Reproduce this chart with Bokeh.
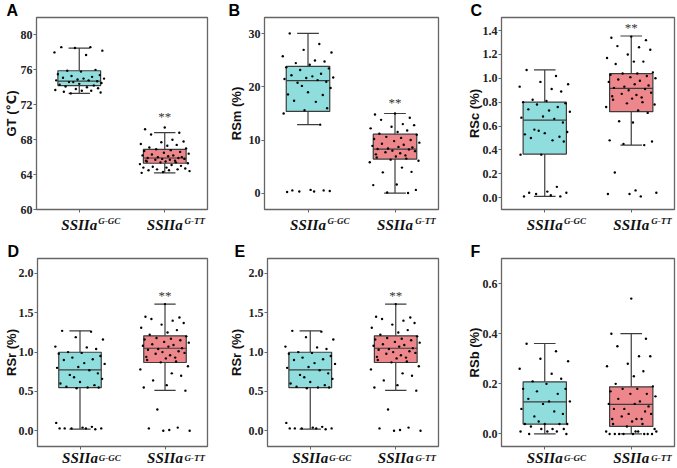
from bokeh.plotting import figure
from bokeh.layouts import row, column
from bokeh.models import Range1d, FixedTicker, Label, LinearAxis
from bokeh.embed import file_html
from bokeh.resources import INLINE

# ---------------- data ----------------
group_main = ["SSIIa", "SSIIa"]
group_sup = ["G-GC", "G-TT"]
group_x = [0.5, 1.5]

# hand-read horizontal jitter (fraction of category spacing)
jitter = [-0.21, 0.13, -0.05, 0.27, -0.29, 0.08, 0.19, -0.14, 0.02, -0.25, 0.24, -0.09,
          0.15, -0.19, 0.05, 0.29, -0.02, -0.27, 0.11, 0.21, -0.12, -0.07, 0.26, 0.0,
          -0.23, 0.17, -0.16, 0.09, 0.22, -0.04, -0.28, 0.14, 0.03, -0.18, 0.25, -0.10,
          0.07, -0.24, 0.18, -0.01, 0.28, -0.15, 0.10, -0.26, 0.04, 0.20, -0.08, -0.20,
          0.16, -0.03, 0.23, -0.11, 0.06, -0.22, 0.12, 0.01]

# box statistics: [whisker low, q1, median, q3, whisker high]
A_gc_stats = [73.3, 74.2, 74.7, 75.9, 78.5]
A_tt_stats = [64.2, 65.3, 65.9, 66.9, 68.8]
B_gc_stats = [12.9, 15.4, 21.2, 23.9, 30.1]
B_tt_stats = [0.0, 6.4, 8.3, 11.1, 15.0]
C_gc_stats = [0.01, 0.365, 0.649, 0.80, 1.07]
C_tt_stats = [0.44, 0.72, 0.915, 1.04, 1.355]
D_gc_stats = [0.02, 0.548, 0.773, 0.998, 1.27]
D_tt_stats = [0.514, 0.868, 1.049, 1.207, 1.61]
F_gc_stats = [0.0, 0.039, 0.128, 0.208, 0.361]
F_tt_stats = [0.0, 0.030, 0.118, 0.188, 0.40]

A_gc = [78.6, 78.6, 78.5, 78.2, 78.0, 77.7, 76.0, 75.9, 75.8, 75.5, 75.4, 75.3, 75.2, 75.1,
        75.0, 75.0, 74.9, 74.8, 74.8, 74.7, 74.6, 74.6, 74.5, 74.4, 74.3, 74.2, 74.1, 74.0,
        73.9, 73.8, 73.7, 73.6, 73.6, 73.5, 73.4, 73.3]
A_tt = [69.4, 69.2, 68.8, 68.6, 68.0, 67.8, 67.7, 67.5, 67.4, 67.3, 67.1, 67.0, 66.9, 66.8,
        66.7, 66.6, 66.5, 66.4, 66.3, 66.2, 66.2, 66.1, 66.0, 66.0, 65.9, 65.9, 65.8, 65.8,
        65.7, 65.7, 65.6, 65.6, 65.5, 65.5, 65.4, 65.4, 65.3, 65.2, 65.1, 65.0, 64.9, 64.8,
        64.8, 64.7, 64.6, 64.6, 64.5, 64.5, 64.4, 64.3, 64.2]
B_gc = [30.1, 28.1, 27.0, 26.5, 25.8, 25.0, 24.8, 24.5, 24.2, 23.7, 23.5, 23.2, 22.5, 22.2,
        22.0, 21.8, 21.7, 21.5, 21.3, 21.0, 20.8, 20.2, 19.8, 19.0, 18.6, 18.5, 17.4, 17.2,
        16.0, 15.6, 15.0, 12.9, 0.6, 0.5, 0.4, 0.3, 0.3, 0.2, 0.5]
B_tt = [15.0, 14.8, 14.2, 13.8, 13.0, 12.8, 12.5, 12.2, 11.8, 11.5, 11.2, 11.0, 10.6, 10.4,
        10.2, 10.0, 9.8, 9.5, 9.3, 9.1, 8.9, 8.7, 8.6, 8.4, 8.3, 8.2, 8.0, 7.9, 7.7, 7.5,
        7.3, 7.1, 6.9, 6.7, 6.5, 6.3, 6.1, 5.8, 4.8, 4.0, 3.9, 1.6, 1.5, 0.6, 0.1, 0.0]
C_gc = [1.07, 1.02, 0.97, 0.95, 0.93, 0.91, 0.89, 0.82, 0.81, 0.80, 0.79, 0.78, 0.76, 0.74,
        0.73, 0.72, 0.68, 0.67, 0.66, 0.63, 0.57, 0.56, 0.55, 0.54, 0.53, 0.51, 0.50, 0.48,
        0.47, 0.36, 0.36, 0.09, 0.05, 0.04, 0.04, 0.03, 0.02, 0.01, 0.01]
C_tt = [1.35, 1.34, 1.32, 1.27, 1.26, 1.24, 1.20, 1.17, 1.14, 1.14, 1.12, 1.05, 1.04, 1.04,
        1.03, 1.02, 1.01, 1.00, 0.99, 0.98, 0.97, 0.95, 0.94, 0.93, 0.92, 0.91, 0.90, 0.88,
        0.87, 0.86, 0.85, 0.84, 0.83, 0.82, 0.80, 0.79, 0.78, 0.76, 0.73, 0.71, 0.64, 0.63,
        0.48, 0.47, 0.45, 0.44, 0.21, 0.06, 0.04, 0.03, 0.03, 0.01]
D_gc = [1.27, 1.26, 1.19, 1.16, 1.07, 1.06, 1.04, 1.00, 0.99, 0.98, 0.95, 0.93, 0.91, 0.90,
        0.86, 0.85, 0.81, 0.80, 0.77, 0.73, 0.71, 0.68, 0.66, 0.62, 0.60, 0.58, 0.56, 0.55,
        0.55, 0.54, 0.10, 0.05, 0.04, 0.03, 0.03, 0.03, 0.03, 0.03, 0.02]
D_tt = [1.61, 1.45, 1.44, 1.42, 1.40, 1.37, 1.35, 1.31, 1.28, 1.25, 1.22, 1.20, 1.18, 1.17,
        1.16, 1.15, 1.13, 1.12, 1.10, 1.09, 1.08, 1.07, 1.05, 1.04, 1.03, 1.01, 1.00, 0.99,
        0.98, 0.96, 0.94, 0.93, 0.92, 0.90, 0.88, 0.87, 0.82, 0.78, 0.73, 0.70, 0.64, 0.58,
        0.55, 0.51, 0.27, 0.04, 0.03, 0.01, 0.00, 0.00]
F_gc = [0.36, 0.33, 0.30, 0.29, 0.26, 0.24, 0.22, 0.21, 0.20, 0.18, 0.18, 0.17, 0.16, 0.14,
        0.13, 0.13, 0.12, 0.10, 0.09, 0.08, 0.07, 0.05, 0.04, 0.04, 0.04, 0.04, 0.03, 0.02,
        0.02, 0.02, 0.01, 0.01, 0.01, 0.00, 0.00]
F_tt = [0.54, 0.40, 0.38, 0.35, 0.31, 0.31, 0.28, 0.27, 0.25, 0.23, 0.20, 0.19, 0.18, 0.18,
        0.17, 0.16, 0.16, 0.15, 0.14, 0.13, 0.12, 0.12, 0.11, 0.10, 0.10, 0.09, 0.08, 0.08,
        0.07, 0.06, 0.06, 0.06, 0.05, 0.04, 0.04, 0.03, 0.02, 0.01, 0.01, 0.00, 0.00, 0.00,
        0.00, 0.00, 0.00, 0.00, 0.00, 0.01, 0.01]

A_ticks = [60, 64, 68, 72, 76, 80]
B_ticks = [0, 10, 20, 30]
C_ticks = [0.0, 0.2, 0.4, 0.6, 0.8, 1.0, 1.2, 1.4]
D_ticks = [0.0, 0.5, 1.0, 1.5, 2.0]
F_ticks = [0.0, 0.2, 0.4, 0.6]

# ---------------- style ----------------
FILL = ["#8fdedd", "#ee878b"]
EDGE = "#3c3c3c"
FRAME = "#666666"
SERIF = "Liberation Serif"
SANS = "Liberation Sans"
SUP_DX = 0.35   # superscript shift right of its tick, in category units


def make_panel(letter, ylabel, ylab_font, ylim, ticks, fmt, pts, stats, star_y,
               width, height, bl, br, bt, bb, letter_dx, ylab_standoff, main_standoff):
    p = figure(width=width, height=height, output_backend="svg", toolbar_location=None,
               x_range=Range1d(0, 2), y_range=Range1d(*ylim),
               min_border_left=bl, min_border_right=br, min_border_top=bt,
               min_border_bottom=bb)
    p.title.text = letter
    p.title.align = "left"
    p.title.offset = letter_dx
    p.title.standoff = -3
    p.title.text_font = SANS
    p.title.text_font_style = "bold"
    p.title.text_font_size = "16px"
    p.title.text_color = "black"

    p.grid.visible = False
    p.outline_line_color = FRAME
    p.outline_line_width = 1.3
    p.background_fill_color = "white"
    p.border_fill_color = "white"

    # nearest x axis: tick marks (as minor ticks at the groups) + superscripts
    sup_ticks = [round(gx + SUP_DX, 3) for gx in group_x]
    p.xaxis.ticker = FixedTicker(ticks=sup_ticks, minor_ticks=group_x)
    p.xaxis.major_label_overrides = {t: s for t, s in zip(sup_ticks, group_sup)}
    p.xaxis.major_label_text_font = SERIF
    p.xaxis.major_label_text_font_style = "bold italic"
    p.xaxis.major_label_text_font_size = "9px"
    p.xaxis.major_label_text_color = "#111111"
    p.xaxis.major_label_standoff = 3
    p.xaxis.major_tick_line_color = None
    p.xaxis.major_tick_in = 0
    p.xaxis.major_tick_out = 0
    p.xaxis.minor_tick_line_color = FRAME
    p.xaxis.minor_tick_in = 0
    p.xaxis.minor_tick_out = 3
    p.xaxis.axis_line_color = FRAME

    # second x axis: italic gene name centred on each group, pulled up next to the ticks
    main_axis = LinearAxis(ticker=FixedTicker(ticks=group_x),
                           major_label_overrides={gx: m for gx, m in zip(group_x, group_main)},
                           axis_line_color=None, major_tick_line_color=None,
                           minor_tick_line_color=None, major_tick_in=0, major_tick_out=0,
                           major_label_standoff=main_standoff, major_label_text_font=SERIF,
                           major_label_text_font_style="bold italic",
                           major_label_text_font_size="15px", major_label_text_color="#111111")
    p.add_layout(main_axis, "below")

    p.yaxis.ticker = FixedTicker(ticks=ticks)
    p.yaxis.major_label_overrides = {t: fmt % t for t in ticks}
    p.yaxis.minor_tick_line_color = None
    p.yaxis.major_tick_in = 0
    p.yaxis.major_tick_out = 3
    p.yaxis.axis_line_color = FRAME
    p.yaxis.major_tick_line_color = FRAME
    p.yaxis.major_label_text_font = SERIF
    p.yaxis.major_label_text_font_style = "bold"
    p.yaxis.major_label_text_font_size = "12px"
    p.yaxis.major_label_text_color = "#222222"
    p.yaxis.major_label_standoff = 1
    p.yaxis.axis_label = ylabel
    p.yaxis.axis_label_text_font = ylab_font
    p.yaxis.axis_label_text_font_style = "bold"
    p.yaxis.axis_label_text_font_size = "13px"
    p.yaxis.axis_label_text_color = "#111111"
    p.yaxis.axis_label_standoff = ylab_standoff

    for gx, st, vals, fill, k in zip(group_x, stats, pts, FILL, [0, 23]):
        lo, q1, med, q3, hi = st
        p.segment(x0=[gx, gx], y0=[q3, q1], x1=[gx, gx], y1=[hi, lo],
                  line_color=EDGE, line_width=1.2)
        p.segment(x0=[gx - 0.125, gx - 0.125], y0=[hi, lo], x1=[gx + 0.125, gx + 0.125],
                  y1=[hi, lo], line_color=EDGE, line_width=1.2)
        p.vbar(x=[gx], bottom=[q1], top=[q3], width=0.5, fill_color=fill,
               line_color=EDGE, line_width=1.2)
        p.segment(x0=[gx - 0.25], y0=[med], x1=[gx + 0.25], y1=[med],
                  line_color=EDGE, line_width=1.2)
        jit = (jitter[k:] + jitter[:k])
        xs = [gx + jit[i % len(jit)] for i in range(len(vals))]
        p.scatter(x=xs, y=vals, size=2.4, fill_color="black", line_color=None)

    if star_y is not None:
        p.add_layout(Label(x=group_x[1], y=star_y, text="**", text_font=SERIF,
                           text_font_size="13px", text_color="#333333",
                           text_align="center", text_baseline="middle"))
    return p


CEL_FONT = "Liberation Sans, DejaVu Sans"
pa = make_panel("A", "GT (℃)", CEL_FONT, (60, 82), A_ticks, "%d", [A_gc, A_tt],
                [A_gc_stats, A_tt_stats], 70.6, 225, 235, 32, 18, 17, 25, -30, -1, -12)
pb = make_panel("B", "RSm (%)", SANS, (-3.1, 33.1), B_ticks, "%d", [B_gc, B_tt],
                [B_gc_stats, B_tt_stats], 17.0, 225, 235, 38, 12, 17, 25, -36, 2, -12)
pc = make_panel("C", "RSc (%)", SANS, (-0.1, 1.51), C_ticks, "%.1f", [C_gc, C_tt],
                [C_gc_stats, C_tt_stats], 1.43, 227, 235, 51, 3, 17, 25, -31, -2, -12)
pd = make_panel("D", "RSr (%)", SANS, (-0.2, 2.19), D_ticks, "%.1f", [D_gc, D_tt],
                [D_gc_stats, D_tt_stats], 1.72, 225, 233, 32, 18, 23, 19, -30, -3, -16)
pe = make_panel("E", "RSr (%)", SANS, (-0.2, 2.19), D_ticks, "%.1f", [D_gc, D_tt],
                [D_gc_stats, D_tt_stats], 1.72, 225, 233, 38, 12, 23, 19, -33, 2, -16)
pf = make_panel("F", "RSb (%)", SANS, (-0.05, 0.70), F_ticks, "%.1f", [F_gc, F_tt],
                [F_gc_stats, F_tt_stats], None, 227, 233, 51, 3, 23, 19, -31, -2, -16)

layout = column(row(pa, pb, pc), row(pd, pe, pf))
open("out.html", "w").write(file_html(layout, INLINE))
